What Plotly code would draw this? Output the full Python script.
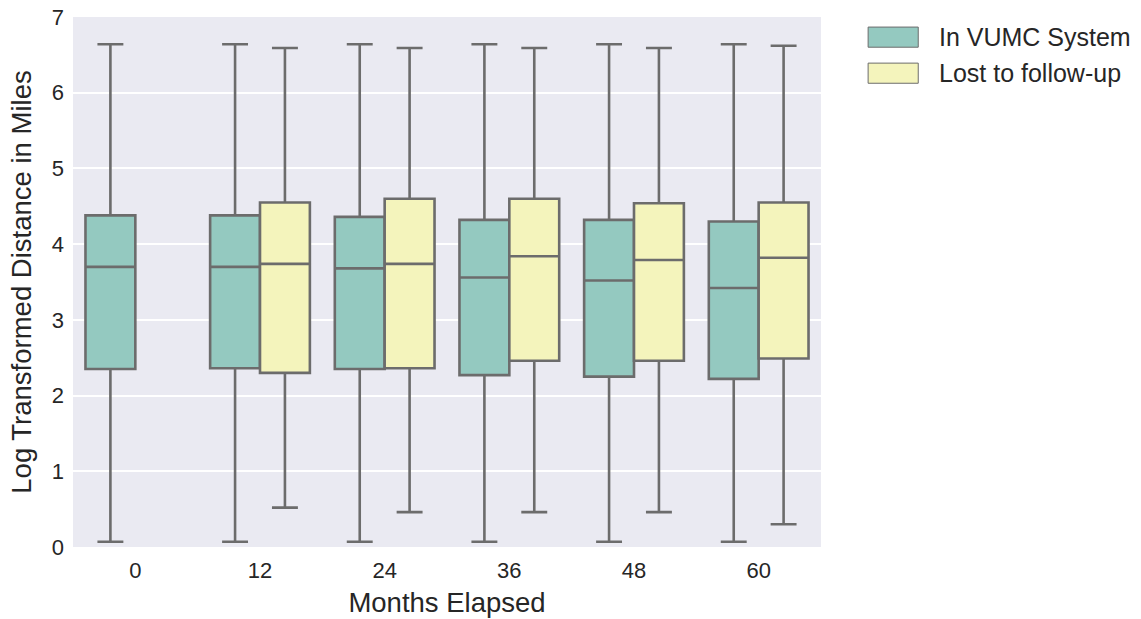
import plotly.graph_objects as go

months = ["0", "12", "24", "36", "48", "60"]

# In VUMC System
in_x = ["0", "12", "24", "36", "48", "60"]
in_low = [0.07, 0.07, 0.07, 0.07, 0.07, 0.07]
in_q1 = [2.35, 2.36, 2.35, 2.27, 2.25, 2.22]
in_med = [3.70, 3.70, 3.68, 3.56, 3.52, 3.42]
in_q3 = [4.38, 4.38, 4.36, 4.32, 4.32, 4.30]
in_high = [6.64, 6.64, 6.64, 6.64, 6.64, 6.64]

# Lost to follow-up
lost_x = ["12", "24", "36", "48", "60"]
lost_low = [0.52, 0.46, 0.46, 0.46, 0.30]
lost_q1 = [2.30, 2.36, 2.46, 2.46, 2.49]
lost_med = [3.74, 3.74, 3.84, 3.79, 3.82]
lost_q3 = [4.55, 4.60, 4.60, 4.54, 4.55]
lost_high = [6.59, 6.59, 6.59, 6.59, 6.62]

series_names = ["In VUMC System", "Lost to follow-up"]
fill_colors = ["#94c9c0", "#f4f4bc"]
line_color = "#6c6c6c"

fig = go.Figure()
fig.add_trace(go.Box(
    name=series_names[0], x=in_x, q1=in_q1, median=in_med, q3=in_q3,
    lowerfence=in_low, upperfence=in_high,
    fillcolor=fill_colors[0], line=dict(color=line_color, width=2.6),
    whiskerwidth=0.52, boxpoints=False, showlegend=False,
))
fig.add_trace(go.Box(
    name=series_names[1], x=lost_x, q1=lost_q1, median=lost_med, q3=lost_q3,
    lowerfence=lost_low, upperfence=lost_high,
    fillcolor=fill_colors[1], line=dict(color=line_color, width=2.6),
    whiskerwidth=0.52, boxpoints=False, showlegend=False,
))

font_family = "Liberation Sans, Arial, sans-serif"

# manual legend
legend_y = [0.962, 0.894]
for i, (nm, col) in enumerate(zip(series_names, fill_colors)):
    fig.add_shape(type="rect", xref="paper", yref="paper",
                  x0=1.063, x1=1.13, y0=legend_y[i] - 0.019, y1=legend_y[i] + 0.019,
                  fillcolor=col, line=dict(color=line_color, width=1))
    fig.add_annotation(xref="paper", yref="paper", x=1.155, y=legend_y[i],
                       text=nm, showarrow=False, xanchor="left", yanchor="middle",
                       font=dict(size=25, color="#262626", family=font_family))

fig.update_layout(
    width=1141, height=619,
    margin=dict(l=73, r=320, t=17, b=72),
    paper_bgcolor="white", plot_bgcolor="#eaeaf2",
    boxmode="group", boxgap=0.2, boxgroupgap=0,
    font=dict(family=font_family, color="#262626", size=22),
    xaxis=dict(
        type="category", categoryorder="array", categoryarray=months,
        title=dict(text="Months Elapsed", font=dict(size=27.5), standoff=10),
        showgrid=False, zeroline=False, ticks="", tickfont=dict(size=22),
        showline=False, automargin=False, ticklabelstandoff=8,
    ),
    yaxis=dict(
        range=[0, 7], dtick=1, tick0=0,
        title=dict(text="Log Transformed Distance in Miles", font=dict(size=27.5), standoff=12),
        showgrid=True, gridcolor="white", gridwidth=1.5, zeroline=False,
        ticks="", tickfont=dict(size=22), showline=False, automargin=False,
        ticklabelstandoff=8, ticklabeloverflow="allow",
    ),
)

fig.write_html(
    "out.html",
    config={"displayModeBar": False},
    post_script="document.body.style.margin='0';document.body.style.padding='0';",
)
